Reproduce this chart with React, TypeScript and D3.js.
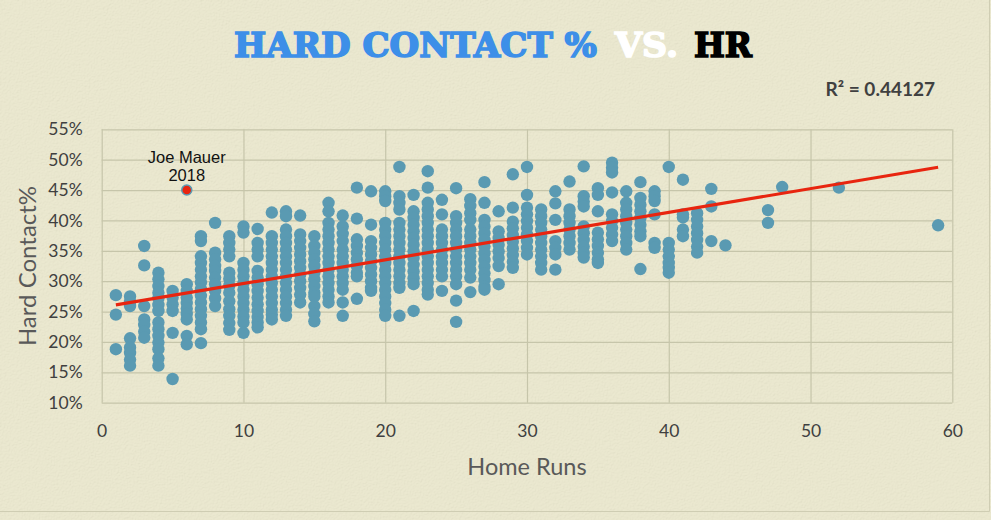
import { useEffect, useRef } from "react";
import * as d3 from "d3";

// [home runs, hard contact % values of the seasons with that HR total]
type HrColumn = [number, number[]];

const lowHrSeasons: HrColumn[] = [
  [1, [27.7, 24.5, 18.8]],
  [2, [27.5, 26.6, 25.9, 20.6, 19.1, 18.2, 17.1, 16.1]],
  [3, [35.8, 32.6, 25.9, 23.7, 22.8, 21.7, 20.7]],
  [4, [31.4, 30.3, 29.2, 28.1, 27.2, 26.1, 25.1, 23.2, 22.1, 21.0, 19.9, 18.8, 17.3, 16.1]],
  [5, [28.4, 27.3, 26.2, 25.1, 21.5, 13.9]],
  [6, [29.5, 28.4, 27.3, 26.4, 25.5, 24.6, 23.7, 21.0, 19.6]],
  [7, [37.4, 36.6, 34.1, 33.0, 31.9, 30.8, 29.8, 28.7, 27.6, 26.5, 25.4, 24.3, 23.2, 22.1, 19.8]],
  [8, [39.6, 34.7, 33.6, 32.5, 31.7, 30.6, 29.5, 28.4, 27.2, 25.9]],
  [9, [37.4, 36.3, 35.2, 34.1, 31.4, 30.4, 29.3, 28.1, 26.7, 25.4, 24.3, 23.1, 22.0]],
  [10, [39.0, 38.0, 33.0, 31.9, 30.8, 29.7, 28.6, 27.5, 26.4, 25.3, 24.2, 23.2, 21.5]],
];

const midHrSeasons: HrColumn[] = [
  [11, [38.6, 36.3, 35.2, 34.1, 31.7, 30.6, 29.5, 28.4, 27.3, 26.2, 25.1, 24.1, 23.2, 22.4]],
  [12, [41.3, 37.4, 36.3, 35.2, 34.1, 33.0, 31.9, 30.8, 29.7, 28.6, 27.5, 26.4, 25.3, 24.5, 23.7]],
  [13, [41.5, 40.7, 38.5, 37.4, 36.3, 35.2, 34.1, 33.0, 31.9, 30.8, 29.7, 28.6, 27.5, 26.4, 25.3, 24.3]],
  [14, [40.8, 37.7, 36.6, 35.5, 34.4, 33.3, 32.2, 31.1, 30.0, 28.9, 27.8, 26.5]],
  [15, [37.4, 35.8, 34.7, 33.6, 32.5, 31.4, 30.3, 29.2, 28.1, 27.5, 25.9, 24.6, 23.4]],
  [16, [42.9, 41.5, 39.6, 38.5, 37.4, 36.3, 35.2, 34.1, 33.0, 31.9, 30.8, 29.7, 28.6, 27.5, 26.5]],
  [17, [40.8, 39.0, 37.8, 36.6, 35.2, 34.1, 33.0, 31.9, 30.8, 29.7, 28.6, 26.5, 24.3]],
  [18, [45.4, 40.3, 36.9, 35.8, 34.7, 33.6, 32.5, 31.4, 30.8, 27.1]],
  [19, [44.8, 39.3, 36.6, 35.5, 34.4, 33.3, 32.2, 31.1, 30.0, 28.9, 28.4]],
  [20, [44.8, 44.0, 43.2, 39.6, 38.5, 37.4, 36.3, 35.2, 34.1, 33.0, 31.9, 30.8, 29.7, 28.6, 27.5, 26.4, 25.3, 24.3]],
  [21, [48.8, 44.0, 42.9, 41.8, 39.6, 38.5, 37.4, 36.3, 35.2, 34.1, 33.0, 31.9, 30.8, 29.7, 28.9, 24.3]],
  [22, [44.2, 41.5, 40.4, 39.3, 38.2, 37.1, 36.0, 34.9, 33.8, 32.7, 31.6, 30.5, 29.5, 25.1]],
  [23, [48.1, 45.4, 42.9, 41.8, 40.7, 39.6, 38.5, 37.4, 36.3, 35.2, 34.1, 33.0, 31.9, 30.8, 29.7, 28.6, 27.8]],
  [24, [43.4, 41.0, 38.5, 37.4, 36.3, 35.2, 34.1, 33.0, 31.9, 30.8, 28.4]],
  [25, [45.3, 40.7, 39.6, 38.5, 37.4, 36.3, 35.2, 34.1, 33.0, 31.9, 30.8, 29.5, 26.8, 23.3]],
];

const highHrSeasons: HrColumn[] = [
  [26, [43.5, 42.4, 41.2, 40.1, 38.5, 37.4, 36.3, 35.2, 34.1, 33.0, 31.9, 30.6, 28.2]],
  [27, [46.3, 42.9, 40.1, 39.0, 37.9, 36.8, 35.7, 34.6, 33.5, 32.4, 31.3, 30.2, 29.1, 28.6]],
  [28, [41.5, 38.2, 37.1, 36.0, 34.9, 33.8, 32.5, 29.5]],
  [29, [47.6, 42.1, 39.8, 38.7, 37.6, 36.5, 35.4, 34.3, 33.2, 32.2]],
  [30, [48.8, 44.2, 42.1, 41.0, 39.9, 38.8, 37.7, 36.6, 35.5, 34.4]],
  [31, [41.8, 40.7, 39.6, 38.5, 37.4, 36.3, 35.2, 34.1, 33.0, 31.9]],
  [32, [44.8, 42.8, 40.1, 36.6, 35.5, 34.4, 31.9]],
  [33, [46.4, 41.8, 40.7, 39.6, 38.5, 37.4, 36.3, 35.2]],
  [34, [48.9, 44.0, 43.1, 42.3, 39.0, 37.9, 36.8, 35.7, 34.7, 33.9]],
  [35, [45.3, 44.2, 41.5, 38.0, 36.9, 35.8, 34.7, 33.6, 33.0]],
  [36, [49.5, 48.7, 47.9, 44.6, 41.0, 39.9, 38.8, 37.7, 36.6]],
  [37, [44.8, 42.9, 41.8, 40.7, 39.6, 38.5, 37.4, 36.3, 35.2]],
  [38, [46.3, 43.7, 42.6, 41.5, 40.4, 39.3, 38.2, 37.4, 32.0]],
  [39, [44.8, 44.0, 43.2, 41.0, 36.3, 35.5]],
  [40, [48.8, 36.3, 35.2, 34.1, 33.0, 32.2, 31.4]],
  [41, [46.7, 41.0, 40.5, 38.5, 37.4]],
  [42, [41.2, 40.1, 39.0, 37.9, 36.8, 35.7, 34.7]],
  [43, [45.2, 42.3, 36.6]],
  [44, [35.9]],
  [47, [41.7, 39.6]],
  [48, [45.5]],
  [52, [45.4]],
  [59, [39.2]],
];

// Highlighted season
const highlightHr = 6;
const highlightPct = 45.0;
const highlightLabel = ["Joe Mauer", "2018"];

// Linear trend line (Excel), endpoints at the min / max HR
const trendHr = [1, 59];
const trendPct = [26.1, 48.75];
const rSquared = "0.44127";

const xTicks = [0, 10, 20, 30, 40, 50, 60];
const yTicks = [10, 15, 20, 25, 30, 35, 40, 45, 50, 55];

const WIDTH = 991;
const HEIGHT = 520;
const PLOT = { left: 101.7, right: 952.3, top: 129.3, bottom: 402.7 };

const BG = "#e9e6ca";
const GRID = "#c6c5aa";
const DOT = "#5a9ab2";
const RED = "#e8250f";
const TEXT = "#404040";

export default function App() {
  const svgRef = useRef<SVGSVGElement>(null);

  useEffect(() => {
    if (!svgRef.current) return;
    const svg = d3.select(svgRef.current);
    svg.selectAll("*").remove();

    // Échelles
    const x = d3.scaleLinear().domain([0, 60]).range([PLOT.left, PLOT.right]);
    const y = d3.scaleLinear().domain([10, 55]).range([PLOT.bottom, PLOT.top]);

    // Paper texture
    const defs = svg.append("defs");
    const filter = defs
      .append("filter")
      .attr("id", "paper")
      .attr("x", 0)
      .attr("y", 0)
      .attr("width", "100%")
      .attr("height", "100%");
    filter
      .append("feTurbulence")
      .attr("type", "fractalNoise")
      .attr("baseFrequency", 0.75)
      .attr("numOctaves", 3)
      .attr("seed", 7);
    filter
      .append("feDiffuseLighting")
      .attr("lighting-color", "#ffffff")
      .attr("surfaceScale", 1.6)
      .append("feDistantLight")
      .attr("azimuth", 235)
      .attr("elevation", 60);

    svg.append("rect").attr("width", WIDTH).attr("height", HEIGHT).attr("fill", BG);
    svg
      .append("rect")
      .attr("width", WIDTH)
      .attr("height", HEIGHT)
      .attr("filter", "url(#paper)")
      .attr("opacity", 0.12);

    // Outer frame (right / bottom edges visible)
    svg
      .append("path")
      .attr("d", `M${WIDTH - 1.5},0V${HEIGHT - 8.5}H0`)
      .attr("fill", "none")
      .attr("stroke", "#cfcdb3")
      .attr("stroke-width", 1);

    // Grille
    svg
      .append("g")
      .attr("transform", `translate(0,${PLOT.bottom})`)
      .call(
        d3
          .axisBottom(x)
          .tickValues(xTicks)
          .tickSize(-(PLOT.bottom - PLOT.top))
          .tickFormat(() => "")
      )
      .call((g) => g.select(".domain").remove())
      .selectAll("line")
      .attr("stroke", GRID)
      .attr("stroke-width", 1.2);

    svg
      .append("g")
      .attr("transform", `translate(${PLOT.left},0)`)
      .call(
        d3
          .axisLeft(y)
          .tickValues(yTicks)
          .tickSize(-(PLOT.right - PLOT.left))
          .tickFormat(() => "")
      )
      .call((g) => g.select(".domain").remove())
      .selectAll("line")
      .attr("stroke", GRID)
      .attr("stroke-width", 1.2);

    // Axes labels
    svg
      .append("g")
      .attr("transform", `translate(0,${PLOT.bottom})`)
      .call(d3.axisBottom(x).tickValues(xTicks).tickSize(0).tickPadding(22))
      .call((g) => g.select(".domain").remove())
      .selectAll("text")
      .style("fill", TEXT)
      .style("font-size", "17.5px")
      .style("font-family", "Lato, sans-serif");

    svg
      .append("g")
      .attr("transform", `translate(${PLOT.left},0)`)
      .call(
        d3
          .axisLeft(y)
          .tickValues(yTicks)
          .tickSize(0)
          .tickPadding(19)
          .tickFormat((d) => `${d}%`)
      )
      .call((g) => g.select(".domain").remove())
      .selectAll("text")
      .style("fill", TEXT)
      .style("font-size", "17.5px")
      .style("font-family", "Lato, sans-serif");

    // Points
    const points = [...lowHrSeasons, ...midHrSeasons, ...highHrSeasons].flatMap(
      ([hr, values]) => values.map((v) => ({ hr, pct: v }))
    );

    svg
      .append("g")
      .selectAll("circle")
      .data(points)
      .enter()
      .append("circle")
      .attr("cx", (d) => x(d.hr))
      .attr("cy", (d) => y(d.pct))
      .attr("r", 6.2)
      .attr("fill", DOT);

    // Trend line
    const line = d3
      .line<number>()
      .x((d) => x(trendHr[d]))
      .y((d) => y(trendPct[d]));
    svg
      .append("path")
      .attr("d", line([0, 1]))
      .attr("fill", "none")
      .attr("stroke", RED)
      .attr("stroke-width", 3.2);

    // Joe Mauer
    svg
      .append("circle")
      .attr("cx", x(highlightHr))
      .attr("cy", y(highlightPct))
      .attr("r", 5)
      .attr("fill", RED)
      .attr("stroke", DOT)
      .attr("stroke-width", 1.5);

    svg
      .append("text")
      .attr("x", x(highlightHr))
      .attr("y", y(highlightPct) - 27)
      .attr("text-anchor", "middle")
      .style("font-family", "Liberation Sans, Arial, sans-serif")
      .style("font-size", "16.5px")
      .style("fill", "#111")
      .selectAll("tspan")
      .data(highlightLabel)
      .enter()
      .append("tspan")
      .attr("x", x(highlightHr))
      .attr("dy", (_, i) => (i === 0 ? 0 : 18))
      .text((d) => d);

    // Axis titles
    svg
      .append("text")
      .attr("x", (PLOT.left + PLOT.right) / 2)
      .attr("y", 475)
      .attr("text-anchor", "middle")
      .style("font-family", "Lato, sans-serif")
      .style("font-size", "23.5px")
      .style("fill", "#595959")
      .text("Home Runs");

    svg
      .append("text")
      .attr("transform", `translate(36,${(PLOT.top + PLOT.bottom) / 2}) rotate(-90)`)
      .attr("text-anchor", "middle")
      .style("font-family", "Lato, sans-serif")
      .style("font-size", "24px")
      .style("fill", "#595959")
      .text("Hard Contact%");

    // R²
    svg
      .append("text")
      .attr("x", 935)
      .attr("y", 96)
      .attr("text-anchor", "end")
      .style("font-family", "Lato, sans-serif")
      .style("font-weight", "bold")
      .style("font-size", "19px")
      .style("fill", TEXT)
      .text(`R² = ${rSquared}`);

    // Title
    const titleParts = [
      { text: "HARD CONTACT %", x0: 234, x1: 597, color: "#3d8fe8" },
      { text: "VS.", x0: 615, x1: 678, color: "#ffffff" },
      { text: "HR", x0: 694, x1: 752, color: "#000000" },
    ];
    svg
      .append("g")
      .selectAll("text")
      .data(titleParts)
      .enter()
      .append("text")
      .attr("x", (d) => d.x0)
      .attr("y", 57)
      .attr("textLength", (d) => d.x1 - d.x0)
      .attr("lengthAdjust", "spacingAndGlyphs")
      .style("font-family", "DejaVu Serif, serif")
      .style("font-weight", "bold")
      .style("font-size", "33px")
      .style("fill", (d) => d.color)
      .style("stroke", (d) => d.color)
      .style("stroke-width", "1.6px")
      .style("stroke-linejoin", "miter")
      .text((d) => d.text);
  }, []);

  return (
    <>
      <style>{`body{margin:0}`}</style>
      <svg ref={svgRef} width={WIDTH} height={HEIGHT} style={{ display: "block" }} />
    </>
  );
}
